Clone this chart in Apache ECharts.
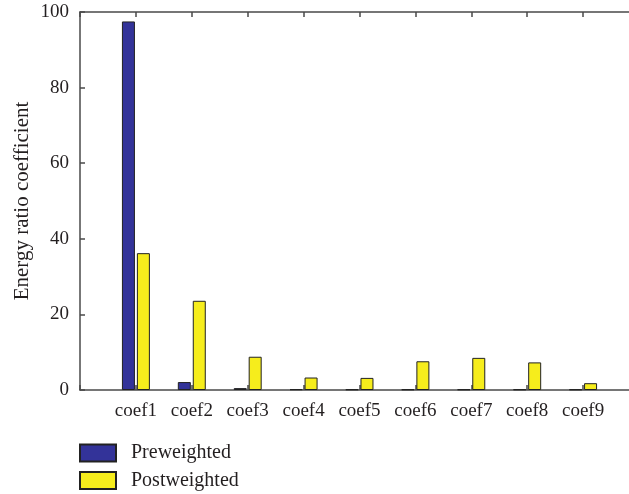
<!DOCTYPE html>
<html>
<head>
<meta charset="utf-8">
<script src="https://cdn.jsdelivr.net/npm/echarts@6/dist/echarts.min.js"></script>
<style>
  html, body { margin: 0; padding: 0; background: #fff; }
  #chart { width: 629px; height: 494px; }
</style>
</head>
<body>
<div id="chart"></div>
<script>
// Energy ratio coefficient per coefficient, before and after weighting
const categories = ['coef1', 'coef2', 'coef3', 'coef4', 'coef5', 'coef6', 'coef7', 'coef8', 'coef9'];
const preweighted = [97.5, 2.1, 0.5, 0.2, 0.15, 0.15, 0.15, 0.15, 0.15];
const postweighted = [36.2, 23.6, 8.8, 3.3, 3.2, 7.6, 8.5, 7.3, 1.8];
const yTicks = [0, 20, 40, 60, 80, 100];

// one empty slot at each end so the first and last groups sit half a step inside the box
const axisCats = [''].concat(categories, ['']);
const pad = arr => [null].concat(arr, [null]);

const font = '"Liberation Serif", "DejaVu Serif", serif';
const ink = '#231f20';
const lineStyle = { color: '#4a4a4a', width: 1.5 };

const chart = echarts.init(document.getElementById('chart'), null, { renderer: 'canvas' });
chart.setOption({
  animation: false,
  textStyle: { fontFamily: font, color: ink },
  grid: { left: 80, top: 12, width: 559, height: 378, containLabel: false, outerBoundsMode: 'none' },
  legend: {
    orient: 'vertical',
    left: 74,
    top: 438,
    height: 60,
    itemWidth: 36,
    itemHeight: 17,
    itemGap: 7.5,
    icon: 'rect',
    textStyle: { fontFamily: font, fontSize: 20, lineHeight: 17, color: ink, padding: [0, 0, 0, 10] },
    data: ['Preweighted', 'Postweighted']
  },
  xAxis: [
    {
      type: 'category',
      data: axisCats,
      boundaryGap: false,
      position: 'bottom',
      axisLine: { lineStyle: lineStyle },
      axisTick: { show: true, inside: true, length: 5, lineStyle: lineStyle, interval: 0 },
      axisLabel: { fontFamily: font, fontSize: 19, color: ink, margin: 12, interval: 0 },
      splitLine: { show: false }
    },
    {
      type: 'category',
      data: axisCats,
      boundaryGap: false,
      position: 'top',
      axisLine: { lineStyle: lineStyle },
      axisTick: { show: true, inside: true, length: 5, lineStyle: lineStyle, interval: 0 },
      axisLabel: { show: false },
      splitLine: { show: false }
    }
  ],
  yAxis: {
    type: 'value',
    min: yTicks[0],
    max: yTicks[yTicks.length - 1],
    interval: yTicks[1] - yTicks[0],
    name: 'Energy ratio coefficient',
    nameLocation: 'middle',
    nameGap: 47,
    nameMoveOverlap: false,
    nameTextStyle: { fontFamily: font, fontSize: 21, color: ink },
    axisLine: { show: true, lineStyle: lineStyle },
    axisTick: { show: true, inside: true, length: 5, lineStyle: lineStyle },
    axisLabel: { fontFamily: font, fontSize: 19, color: ink, margin: 11 },
    splitLine: { show: false }
  },
  series: [
    {
      name: 'Preweighted',
      type: 'bar',
      data: pad(preweighted),
      barWidth: 13,
      barGap: '15%',
      itemStyle: { color: '#333399', borderColor: '#222222', borderWidth: 1 }
    },
    {
      name: 'Postweighted',
      type: 'bar',
      data: pad(postweighted),
      barWidth: 13,
      barGap: '15%',
      itemStyle: { color: '#f6ed1c', borderColor: '#222222', borderWidth: 1 }
    }
  ]
});
</script>
</body>
</html>
